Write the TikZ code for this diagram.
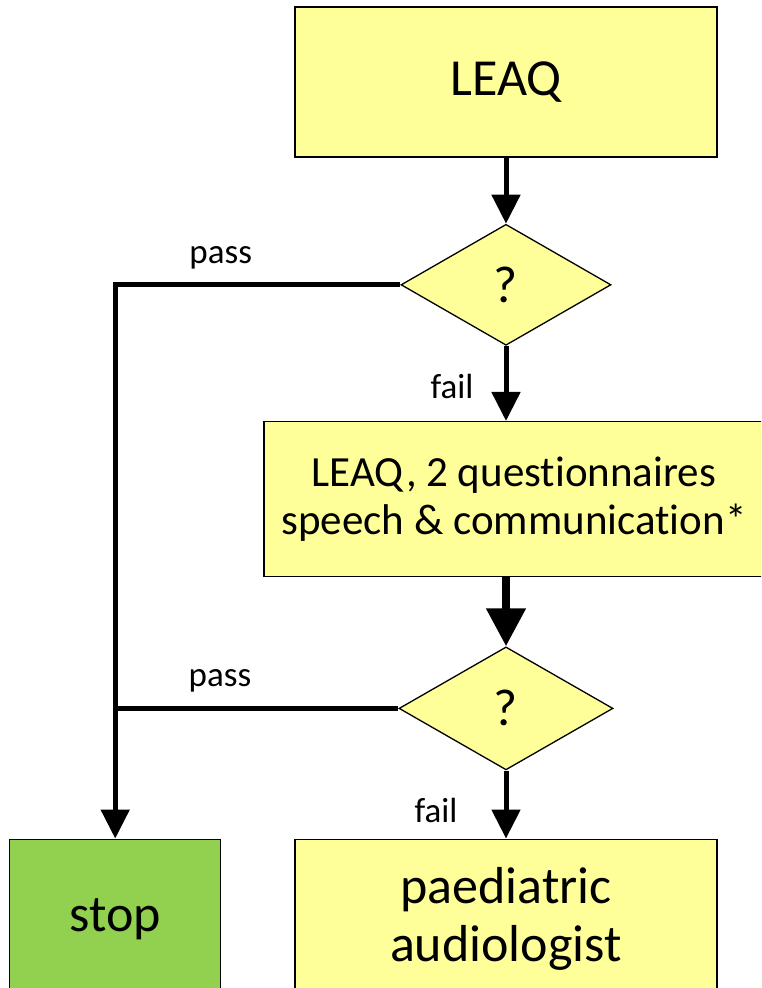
\documentclass[tikz,border=0pt]{standalone}
\usepackage{fontspec}
\setmainfont{Carlito}[Ligatures=NoCommon]
\usepackage{tikz}
\usetikzlibrary{positioning}
\usetikzlibrary{shapes.geometric}
\usetikzlibrary{arrows.meta}
\definecolor{leaqyellow}{HTML}{FFFF99}
\definecolor{stopgreen}{HTML}{92D050}
\tikzset{
    flow chart/.style={
            x=1pt,y=-1pt,
            box/.style={draw,line width=1.3pt,fill=leaqyellow,inner sep=0pt,align=center},
            decision/.style={diamond,draw,line width=1.3pt,fill=leaqyellow,inner sep=0pt,
                    font=\fontsize{52}{60}\selectfont},
            arrow/.style={line width=5pt,-{Triangle[length=29pt,width=28pt]}},
            thick arrow/.style={line width=8pt,-{Triangle[length=38pt,width=38pt]}},
            branch/.style={line width=5pt},
            tag/.style={font=\fontsize{35}{42}\selectfont,inner sep=0pt,anchor=base}
        }
    }
\newcommand{\bigtext}{\fontsize{52}{62}\selectfont}

\begin{document}
\begin{tikzpicture}[flow chart]
    \useasboundingbox (0,0) rectangle (761,988);
    \clip (0,0) rectangle (761,988);
    \node (leaq) [box,minimum width=422pt,minimum height=150pt,font=\bigtext] at (506,82) {LEAQ};
    \node (q1) [decision,minimum width=210pt,minimum height=121pt,below=66pt of leaq] {?};
    \node (quest) [box,minimum width=500pt,minimum height=155pt,below=75pt of q1,xshift=8pt,
        font=\fontsize{43}{48}\selectfont] {LEAQ, 2 questionnaires\\speech \& communication*};
    \node (q2) [decision,minimum width=214pt,minimum height=123pt,below=69pt of quest,xshift=-8pt] {?};
    \node (audio) [box,minimum width=422pt,minimum height=160pt,below=68pt of q2,font=\bigtext] {paediatric\\[-4pt]audiologist};
    \node (stop) [box,fill=stopgreen,minimum width=211pt,minimum height=160pt,left=73pt of audio,font=\bigtext] {stop};
    \draw [arrow] (leaq) -- (q1);
    \draw [arrow] (q1.west) -- node [tag,pos=0.63,yshift=21pt] {pass} (stop.north |- q1.west) -- (stop.north);
    \draw [arrow] (q1.south) -- node [tag,anchor=base east,pos=0.70,xshift=-30pt] {fail} (q1.south |- quest.north);
    \draw [thick arrow] (q1.south |- quest.south) -- (q2.north);
    \draw [branch] (q2.west) -- node [tag,pos=0.63,yshift=22pt] {pass} (stop.north |- q2.west);
    \draw [arrow] (q2.south) -- node [tag,anchor=base east,pos=0.77,xshift=-46pt] {fail} (audio.north);
\end{tikzpicture}
\end{document}
